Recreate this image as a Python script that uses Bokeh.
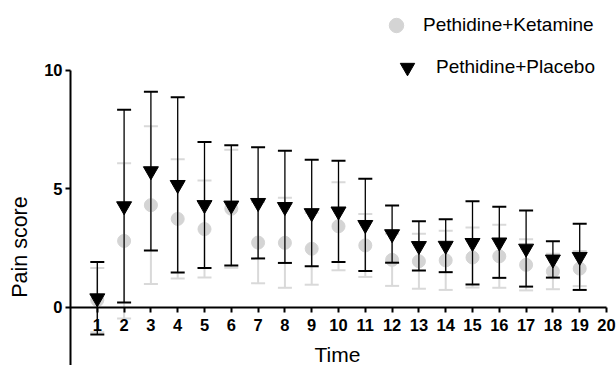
import math
from bokeh.plotting import figure
from bokeh.models import (ColumnDataSource, Whisker, TeeHead, FixedTicker, Range1d,
                          Legend, LegendItem, Label)
from bokeh.embed import file_html
from bokeh.resources import INLINE

# ---- data ----
time = list(range(1, 20))
ketamine_mean = [0.30, 2.80, 4.31, 3.73, 3.30, 4.16, 2.73, 2.72, 2.47, 3.42,
                 2.61, 2.00, 1.94, 1.98, 2.10, 2.15, 1.79, 1.51, 1.63]
ketamine_sd = [1.36, 3.28, 3.33, 2.52, 2.05, 2.49, 1.72, 1.90, 1.52, 1.86,
               1.33, 1.10, 1.16, 1.25, 1.27, 1.33, 1.08, 0.75, 0.74]
placebo_mean = [0.38, 4.27, 5.75, 5.17, 4.32, 4.30, 4.41, 4.24, 3.98, 4.05,
                3.48, 3.09, 2.59, 2.60, 2.72, 2.74, 2.48, 2.02, 2.13]
placebo_sd = [1.53, 4.07, 3.35, 3.70, 2.66, 2.54, 2.35, 2.37, 2.25, 2.14,
              1.95, 1.21, 1.04, 1.12, 1.76, 1.50, 1.61, 0.77, 1.40]
x_ticks = list(range(1, 21))
y_ticks = [0, 5, 10]
series_names = ["Pethidine+Ketamine", "Pethidine+Placebo"]
x_title = "Time"
y_title = "Pain score"

FONT = "Liberation Sans"
GREY = "#d4d4d4"
GREY_BAR = "#d9d9d9"

ket = ColumnDataSource(dict(
    t=time, m=ketamine_mean,
    lo=[m - s for m, s in zip(ketamine_mean, ketamine_sd)],
    hi=[m + s for m, s in zip(ketamine_mean, ketamine_sd)]))
pla = ColumnDataSource(dict(
    t=time, m=placebo_mean,
    lo=[m - s for m, s in zip(placebo_mean, placebo_sd)],
    hi=[m + s for m, s in zip(placebo_mean, placebo_sd)]))

p = figure(width=616, height=365, output_backend="svg", toolbar_location=None,
           x_range=Range1d(-2.612, 20.373), y_range=Range1d(-2.463, 12.957),
           min_border_left=0, min_border_right=0, min_border_top=0,
           min_border_bottom=0)
p.outline_line_color = None
p.grid.visible = False
p.background_fill_color = "white"
p.border_fill_color = "white"

# grey error bars (behind)
wk = Whisker(source=ket, base="t", lower="lo", upper="hi",
             line_color=GREY_BAR, line_width=2,
             upper_head=TeeHead(size=14, line_color=GREY_BAR, line_width=2),
             lower_head=TeeHead(size=14, line_color=GREY_BAR, line_width=2),
             level="underlay")
p.add_layout(wk)
r_ket = p.scatter("t", "m", source=ket, marker="circle", size=13,
                  fill_color=GREY, line_color=GREY)

wp = Whisker(source=pla, base="t", lower="lo", upper="hi",
             line_color="black", line_width=1.3,
             upper_head=TeeHead(size=14, line_color="black", line_width=2),
             lower_head=TeeHead(size=14, line_color="black", line_width=2),
             level="glyph")
p.add_layout(wp)
r_pla = p.scatter("t", "m", source=pla, marker="inverted_triangle", size=15,
                  fill_color="black", line_color="black")

# axes (both crossing at the origin)
xa = p.xaxis[0]
xa.fixed_location = 0
xa.ticker = FixedTicker(ticks=x_ticks)
xa.bounds = (0, 20)
ya = p.yaxis[0]
ya.fixed_location = 0
ya.ticker = FixedTicker(ticks=y_ticks)
ya.bounds = (-2.463, 10)
for ax in (xa, ya):
    ax.axis_line_width = 2
    ax.axis_line_color = "black"
    ax.major_tick_line_width = 2
    ax.major_tick_line_color = "black"
    ax.major_tick_out = 5
    ax.major_tick_in = 0
    ax.minor_tick_line_color = None
    ax.major_label_text_font = FONT
    ax.major_label_text_font_style = "bold"
    ax.major_label_text_font_size = "16.5px"
    ax.major_label_text_color = "black"
xa.major_label_standoff = 7
ya.major_label_standoff = 3

# axis titles
p.add_layout(Label(x=9.96, y=-2.0, text=x_title, text_font=FONT,
                   text_font_size="21px", text_align="center",
                   text_baseline="middle", text_color="black"))
p.add_layout(Label(x=-1.87, y=2.54, text=y_title, text_font=FONT,
                   text_font_size="21.5px", text_align="center",
                   text_baseline="middle", angle=math.pi / 2,
                   text_color="black"))

# legends
def make_legend(name, r, loc, standoff):
    lg = Legend(items=[LegendItem(label=name, renderers=[r])], location=loc,
                glyph_width=36, glyph_height=36, label_standoff=standoff,
                padding=0, margin=0, spacing=0, border_line_color=None,
                background_fill_alpha=0, label_text_font=FONT,
                label_text_font_size="19px", label_text_color="black")
    p.add_layout(lg)

make_legend(series_names[0], r_ket, (378, 322), 9)
make_legend(series_names[1], r_pla, (389, 280), 11)

open("out.html", "w").write(file_html(p, INLINE))
